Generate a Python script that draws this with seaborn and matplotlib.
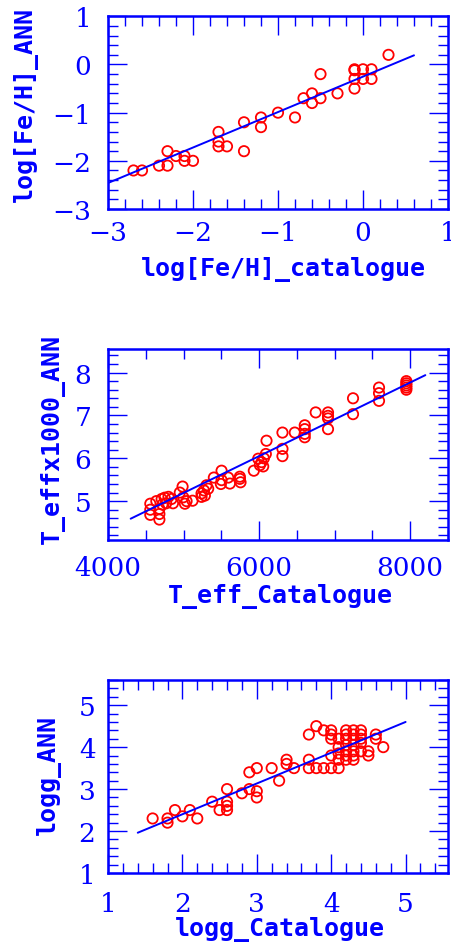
import numpy as np
import pandas as pd
import matplotlib
matplotlib.use("Agg")
import matplotlib.pyplot as plt
from matplotlib.ticker import MultipleLocator
import seaborn as sns

# ---------------- data ----------------
# Panel 1: metallicity
feh_cat = [-2.7, -2.6, -2.4, -2.3, -2.3, -2.2, -2.1, -2.1, -2.0,
           -1.7, -1.7, -1.7, -1.6, -1.4, -1.4, -1.2, -1.2, -1.0, -0.8,
           -0.7, -0.6, -0.6, -0.5, -0.5, -0.3,
           -0.1, -0.1, -0.1, -0.1, 0.0, 0.0, 0.1, 0.1, 0.3]
feh_ann = [-2.2, -2.2, -2.1, -1.8, -2.1, -1.9, -1.9, -2.0, -2.0,
           -1.4, -1.6, -1.7, -1.7, -1.2, -1.8, -1.1, -1.3, -1.0, -1.1,
           -0.7, -0.6, -0.8, -0.2, -0.7, -0.6,
           -0.1, -0.12, -0.3, -0.5, -0.1, -0.3, -0.1, -0.3, 0.2]
feh_fit_x = [-3.0, 0.6]
feh_fit_y = [-2.46, 0.19]

# Panel 2: effective temperature
teff_cat = [4560, 4560, 4560, 4680, 4680, 4680, 4640, 4710, 4750, 4800,
            4840, 4860, 4770, 4720, 4950, 4987, 4996, 5018, 5040, 5119,
            5238, 5238, 5270, 5304, 5326, 5282, 5401, 5503, 5494, 5503,
            5591, 5613, 5745, 5754, 5745, 5930, 5988, 6032, 6054, 6010,
            6063, 6098, 6089, 6309, 6309, 6309, 6472, 6604, 6604, 6604,
            6604, 6749, 6912, 6912, 6912, 6912, 7243, 7243, 7587, 7587,
            7587, 7949, 7949, 7949, 7949, 7949]
teff_ann = [4.94, 4.80, 4.68, 4.82, 4.70, 4.57, 5.00, 5.05, 5.08, 5.10,
            5.05, 4.95, 4.95, 4.92, 5.20, 5.34, 5.09, 4.94, 5.00, 5.01,
            5.18, 5.10, 5.25, 5.37, 5.29, 5.13, 5.55, 5.71, 5.40, 5.49,
            5.55, 5.41, 5.57, 5.44, 5.52, 5.71, 5.99, 5.91, 5.81, 5.84,
            6.00, 6.41, 6.10, 6.60, 6.22, 6.05, 6.60, 6.77, 6.68, 6.57,
            6.49, 7.07, 7.07, 6.99, 6.93, 6.68, 7.40, 7.03, 7.65, 7.52,
            7.34, 7.80, 7.75, 7.70, 7.65, 7.60]
teff_fit_x = [4300, 8200]
teff_fit_y = [4.59, 7.94]

# Panel 3: surface gravity
logg_cat = [1.6, 1.8, 1.8, 1.9, 2.0, 2.1, 2.2, 2.4, 2.5, 2.6, 2.6, 2.6, 2.6,
            2.8, 2.9, 2.9, 3.0, 3.0, 3.0, 3.2, 3.3, 3.4, 3.4, 3.5,
            3.7, 3.7, 3.7, 3.8, 3.8, 3.9, 3.9,
            4.0, 4.0, 4.0, 4.0, 4.0,
            4.1, 4.1, 4.1, 4.1, 4.1,
            4.2, 4.2, 4.2, 4.2, 4.2, 4.2, 4.2,
            4.3, 4.3, 4.3, 4.3, 4.3, 4.3, 4.3,
            4.4, 4.4, 4.4, 4.4, 4.4,
            4.5, 4.5, 4.6, 4.6, 4.7]
logg_ann = [2.3, 2.3, 2.2, 2.5, 2.35, 2.5, 2.3, 2.7, 2.5, 3.0, 2.7, 2.6, 2.5,
            2.9, 3.4, 3.0, 3.5, 2.95, 2.8, 3.5, 3.2, 3.7, 3.6, 3.5,
            4.3, 3.7, 3.5, 4.5, 3.5, 4.4, 3.5,
            4.4, 4.3, 4.2, 3.8, 3.5,
            4.2, 4.0, 3.85, 3.7, 3.5,
            4.4, 4.3, 4.2, 4.05, 3.9, 3.8, 3.7,
            4.4, 4.3, 4.2, 4.05, 3.9, 3.8, 3.7,
            4.4, 4.3, 4.2, 4.1, 3.9,
            3.9, 3.8, 4.3, 4.2, 4.0]
logg_fit_x = [1.4, 5.0]
logg_fit_y = [1.96, 4.6]

# ---------------- style ----------------
sns.set_style("white")
BLUE = "#0000ff"
RED = "#ff0000"
TICK_FONT = dict(family="DejaVu Serif", size=19)
LABEL_FONT = dict(family="DejaVu Sans Mono", size=18, weight="bold")

fig = plt.figure(figsize=(4.51, 9.45), dpi=100)

W = 451.0
H = 945.0


def make_ax(left, right, top, bottom):
    return fig.add_axes([left / W, 1 - bottom / H, (right - left) / W, (bottom - top) / H])


panels = [
    dict(box=(108, 448, 17.3, 210), x=feh_cat, y=feh_ann, fx=feh_fit_x, fy=feh_fit_y,
         xlim=(-3, 1), ylim=(-3, 1), xmaj=1, xmin=0.2, ymaj=1, ymin=0.2,
         xlabel="log[Fe/H]_catalogue", ylabel="log[Fe/H]_ANN",
         xlab_pos=(0.515, -0.311), ylab_pos=(-0.244, 0.545), xpad=8, ypad=12),
    dict(box=(108, 448, 350, 540.7), x=teff_cat, y=teff_ann, fx=teff_fit_x, fy=teff_fit_y,
         xlim=(4000, 8500), ylim=(4.1, 8.55), xmaj=2000, xmin=500, ymaj=1, ymin=0.2,
         xlabel="T_eff_Catalogue", ylabel="T_effx1000_ANN",
         xlab_pos=(0.506, -0.294), ylab_pos=(-0.165, 0.533), xpad=11, ypad=12),
    dict(box=(108, 448, 681, 874), x=logg_cat, y=logg_ann, fx=logg_fit_x, fy=logg_fit_y,
         xlim=(1, 5.57), ylim=(1, 5.6), xmaj=1, xmin=0.2, ymaj=1, ymin=0.2,
         xlabel="logg_Catalogue", ylabel="logg_ANN",
         xlab_pos=(0.506, -0.29), ylab_pos=(-0.176, 0.513), xpad=13, ypad=9),
]

for p in panels:
    ax = make_ax(*p["box"])
    df = pd.DataFrame({"x": p["x"], "y": p["y"]})
    sns.scatterplot(data=df, x="x", y="y", ax=ax, marker="o", s=55,
                    facecolor="none", edgecolor=RED, linewidth=1.3, zorder=3)
    fit = pd.DataFrame({"x": p["fx"], "y": p["fy"]})
    sns.lineplot(data=fit, x="x", y="y", ax=ax, color=BLUE, linewidth=1.4, zorder=4)

    ax.set_xlim(*p["xlim"])
    ax.set_ylim(*p["ylim"])
    ax.xaxis.set_major_locator(MultipleLocator(p["xmaj"]))
    ax.xaxis.set_minor_locator(MultipleLocator(p["xmin"]))
    ax.yaxis.set_major_locator(MultipleLocator(p["ymaj"]))
    ax.yaxis.set_minor_locator(MultipleLocator(p["ymin"]))

    for sp in ax.spines.values():
        sp.set_color(BLUE)
        sp.set_linewidth(1.8)
        sp.set_visible(True)

    ax.tick_params(which="both", direction="in", top=True, right=True,
                   bottom=True, left=True, color=BLUE, labelcolor=BLUE)
    ax.tick_params(which="major", length=14, width=1.0)
    ax.tick_params(which="minor", length=7, width=1.0)
    ax.tick_params(axis="x", which="major", pad=p["xpad"])
    ax.tick_params(axis="y", which="major", pad=p["ypad"])
    for lab in ax.get_xticklabels() + ax.get_yticklabels():
        lab.set_fontfamily(TICK_FONT["family"])
        lab.set_fontsize(TICK_FONT["size"])

    ax.set_xlabel(p["xlabel"], color=BLUE, **LABEL_FONT)
    ax.set_ylabel(p["ylabel"], color=BLUE, **LABEL_FONT)
    ax.xaxis.label.set_va("center")
    ax.yaxis.label.set_va("center")
    ax.xaxis.set_label_coords(*p["xlab_pos"])
    ax.yaxis.set_label_coords(*p["ylab_pos"])
    ax.grid(False)

fig.savefig("out.png", dpi=100)
